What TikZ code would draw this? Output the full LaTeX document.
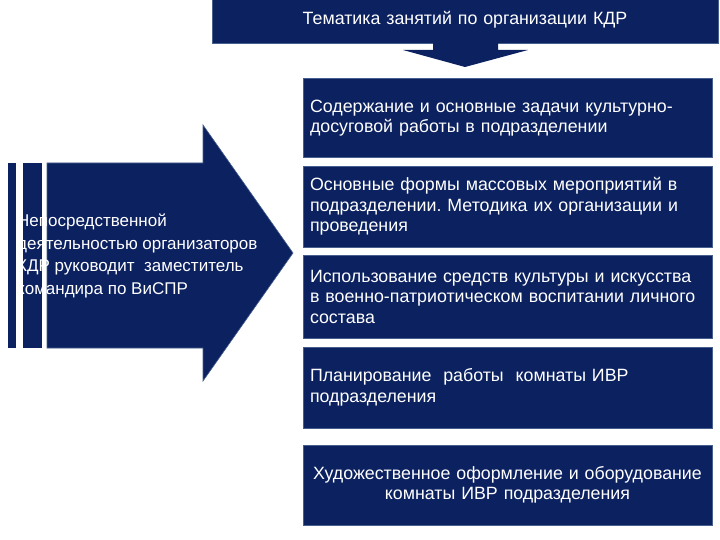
\documentclass[tikz,border=0pt]{standalone}
\usepackage{fontspec}
\setmainfont{Liberation Sans}
\frenchspacing
\definecolor{navy}{RGB}{12,33,96}
\definecolor{edgeblue}{RGB}{70,95,140}
\begin{document}
\begin{tikzpicture}[x=1pt,y=-1pt,
  shapefill/.style={fill=navy,draw=edgeblue,line width=0.6pt},
  box/.style={shapefill,text=white,minimum width=409pt,inner xsep=7pt,
    text width=395pt,align=left,font=\fontsize{17.8}{20.5}\selectfont},
  lbl/.style={text=white,align=left,inner sep=0pt,font=\fontsize{17}{22.7}\selectfont}]
\useasboundingbox (0,0) rectangle (720,540);
% top box
\node[box,minimum width=506pt,text width=490pt,align=center,minimum height=46pt] (top) at (465,20) {Тематика занятий по организации КДР};
% down arrow
\fill[navy] (433,42) -- (498,42) -- (498,50) -- (528,50) -- (465,67) -- (403,50) -- (433,50) -- cycle;
% right boxes
\node[box,minimum height=79pt] (b1) at (507.5,118) {Содержание и основные задачи культурно-\\досуговой работы в подразделении};
\node[box,minimum height=81pt] (b2) at (507.5,206.5) {Основные формы массовых мероприятий в\\подразделении. Методика их организации и\\проведения};
\node[box,minimum height=83pt] (b3) at (507.5,296.5) {Использование средств культуры и искусства\\в военно-патриотическом воспитании личного\\состава};
\node[box,minimum height=81pt] (b4) at (507.5,387.5) {Планирование\ \ работы\ \ комнаты ИВР\\подразделения};
\node[box,minimum height=80pt,align=center] (b5) at (507.5,485) {Художественное оформление и оборудование\\комнаты ИВР подразделения};
% left arrow
\fill[navy] (8,163) rectangle (16,348);
\fill[navy] (23,163) rectangle (42,348);
\filldraw[shapefill] (47,163) -- (203,163) -- (203,125) -- (293,253) -- (203,381) -- (203,348) -- (47,348) -- cycle;
\node[lbl,anchor=west] (lt) at (17,256) {Непосредственной\\деятельностью организаторов\\КДР руководит\ \ заместитель\\командира по ВиСПР};
\end{tikzpicture}
\end{document}
